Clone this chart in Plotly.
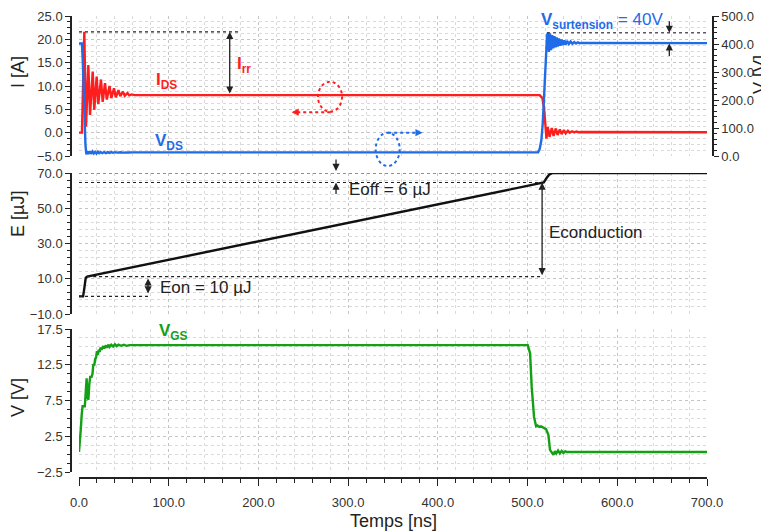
import plotly.graph_objects as go

# ---------------- data ----------------
t_ids = [0, 3.3, 4.5, 5.9, 7.8, 10.4, 12.3, 15.3, 17, 19.7, 21.5, 24.5, 26.4, 29, 31, 34, 36, 39, 41,
         44, 46, 49, 51, 54, 56, 59, 62, 513.5, 516.5, 518.4, 519.9, 521, 522.5, 524.5, 527, 529,
         531.5, 533.5, 536, 538, 540.5, 542.5, 545, 547, 549.5, 552, 554.5, 557, 560, 700]
i_ds = [0, 0, 10, 21.6, 1.3, 14.5, 3.8, 13.1, 4.9, 12.0, 6.1, 11.4, 6.6, 10.6, 7.1, 10.0, 7.4, 9.5, 7.6,
        9.1, 7.8, 8.8, 7.9, 8.5, 8.0, 8.2, 8.05, 8.05, 7.4, 5.2, 1.6, -1.3, 1.2, -0.9, 1.0, -0.7,
        0.9, -0.5, 0.7, -0.3, 0.55, -0.15, 0.4, 0.0, 0.3, 0.05, 0.25, 0.1, 0.15, 0.1]

t_vds = [0, 3.3, 4.3, 5.2, 6.2, 7.2, 8.2, 9.2, 10.5, 12, 13.5, 15, 16.5, 18, 19.5, 21, 22.5, 24, 26, 28,
         30, 32, 34, 36, 38, 40, 43, 46, 49, 52, 55, 60, 511.7, 513.5, 515.4, 517, 518.4, 520.2,
         521.7, 522.8, 523.8, 525, 526.2, 527.5, 528.7, 530, 531.2, 532.5, 533.7, 535, 536.5, 538,
         539.5, 541, 542.5, 544, 546, 548, 550, 552, 554, 556, 558, 560, 700]
v_ds = [402, 402, 330, 220, 110, 40, 6, 16, 7, 17, 8, 16, 9, 15, 9, 15, 10, 14, 10, 14,
        10.5, 14, 11, 14, 11.5, 13.5, 12, 13.5, 12, 13.5, 12.5, 13, 13, 25, 57, 120, 199, 324,
        431, 440, 372, 438, 378, 432, 384, 428, 388, 424, 391, 420, 394, 416, 396, 413, 398,
        411, 400, 409, 401, 407, 402, 406, 403, 404, 403]

t_e = [0, 4.5, 5.5, 6.5, 7.5, 9, 50, 100, 150, 200, 250, 300, 350, 400, 450, 500, 518, 521, 524, 528, 700]
e_sw = [0, 0, 3, 8, 10.5, 11.2, 15.5, 20.8, 26.1, 31.4, 36.5, 41.8, 47.0, 52.3, 57.6, 62.8, 64.6, 67,
        69, 70, 70]

t_vgs = [0, 1, 2, 3, 4, 6.5, 7.5, 8.5, 9.5, 10.5, 11.5, 12.5, 14, 15, 16, 17, 18, 19, 20, 21, 22, 23,
         24, 25, 27, 28, 30, 31, 33, 34, 36, 38, 40, 42, 44, 47, 50, 53, 56, 500.2, 502.8, 504.6,
         507.2, 509.5, 511, 513, 515, 517, 519, 520.6, 522, 523.2, 525, 527, 528.8, 530.5, 532,
         534, 536, 538, 540, 542, 543.6, 700]
v_gs = [0.3, 1.5, 3.5, 5.5, 6.7, 6.7, 9.5, 10.6, 8.0, 7.6, 9.8, 10.8, 10.8, 11.2, 12.6, 12.4, 13.3,
        13.5, 14.4, 13.9, 14.6, 14.3, 14.9, 14.6, 15.1, 14.8, 15.2, 14.9, 15.3, 15.0, 15.3, 15.05,
        15.35, 15.1, 15.3, 15.15, 15.3, 15.15, 15.25, 15.25, 14.1, 9.4, 5.2, 3.9, 4.0, 3.8, 3.9,
        3.7, 3.6, 3.5, 3.0, 2.7, 0.6, 0.2, -0.1, 0.4, 0.1, 0.5, 0.1, 0.45, 0.15, 0.4, 0.3, 0.3]

# key levels used by the annotations
i_rr_peak = 21.6
i_on = 8.05
v_peak = 440
v_off = 402
e_on = 11.2
e_before_off = 64.6
e_total = 70

# ---------------- layout helpers ----------------
W, H = 761, 531
def px(v):
    return v / W
def py(v):
    return 1 - v / H

RED = "#ff1e1e"
BLUE = "#1f6be8"
GREEN = "#14a014"
INK = "#222222"
TICKFONT = dict(family="Liberation Sans, Arial", size=13, color="#333333")
XDOM = [px(79), px(707)]

fig = go.Figure()
fig.add_trace(go.Scatter(x=t_ids, y=i_ds, xaxis="x", yaxis="y", mode="lines",
                         line=dict(color=RED, width=2.4)))
fig.add_trace(go.Scatter(x=t_vds, y=v_ds, xaxis="x", yaxis="y4", mode="lines",
                         line=dict(color=BLUE, width=2.4)))
fig.add_trace(go.Scatter(x=t_e, y=e_sw, xaxis="x2", yaxis="y2", mode="lines",
                         line=dict(color="#111111", width=2.4)))
fig.add_trace(go.Scatter(x=t_vgs, y=v_gs, xaxis="x3", yaxis="y3", mode="lines",
                         line=dict(color=GREEN, width=2.4)))

grid = dict(showgrid=True, gridcolor="#c4c4c4", griddash="dot", gridwidth=1, zeroline=False,
            automargin=False)

def xgrid_axis(anchor, labels):
    d = dict(domain=XDOM, range=[0, 700], dtick=100, **grid,
             minor=dict(dtick=20, showgrid=True, gridcolor="#dadada", griddash="dot", gridwidth=1,
                        ticks="outside" if labels else "", ticklen=4, tickcolor=INK))
    if labels:
        d.update(anchor="free", position=py(478), showline=True, linecolor=INK, linewidth=1.5,
                 ticks="outside", ticklen=7, tickcolor=INK, tickwidth=1.3, tickformat=".1f",
                 tickfont=TICKFONT, ticklabelstandoff=6)
    else:
        d.update(anchor=anchor, showticklabels=False, ticks="", showline=False)
    return d

def yaxis(dom, rng, dtick, tick0, mdtick):
    return dict(domain=dom, range=rng, dtick=dtick, tick0=tick0, anchor="free", position=px(71),
                showline=True, linecolor=INK, linewidth=1.5, ticks="outside", ticklen=5,
                tickcolor=INK, tickwidth=1.2, tickformat=".1f", tickfont=TICKFONT, **grid,
                minor=dict(dtick=mdtick, tick0=tick0, ticks="outside", ticklen=3, tickcolor=INK,
                           showgrid=True, gridcolor="#dadada", griddash="dot", gridwidth=1))

fig.update_layout(
    width=W, height=H, margin=dict(l=0, r=0, t=0, b=0, autoexpand=False),
    paper_bgcolor="white", plot_bgcolor="white", showlegend=False,
    xaxis=xgrid_axis("y", False),
    xaxis2=xgrid_axis("y2", False),
    xaxis3=xgrid_axis("y3", True),
    yaxis=yaxis([py(156), py(16)], [-5, 25], 5, 0, 1.25),
    yaxis2=yaxis([py(314), py(173)], [-10, 70], 20, 10, 4),
    yaxis3=yaxis([py(472), py(329)], [-2.5, 17.5], 5, 2.5, 1.25),
    yaxis4=dict(overlaying="y", side="right", anchor="free", position=px(713), range=[0, 500],
                dtick=100, showgrid=False, zeroline=False, showline=True, linecolor=INK,
                automargin=False, linewidth=1.5, ticks="outside", ticklen=5, tickcolor=INK,
                tickformat=".1f", tickfont=TICKFONT,
                minor=dict(dtick=20, ticks="outside", ticklen=3, tickcolor=INK)),
)

shapes = []
ann = []

def dline(x0, x1, y, xref, yref):
    shapes.append(dict(type="line", x0=x0, x1=x1, y0=y, y1=y, xref=xref, yref=yref,
                       line=dict(color=INK, width=1.1, dash="dot")))

def arr(x, y, ax, ay, xref, yref, both=False, data_tail=True, color=INK):
    d = dict(x=x, y=y, ax=ax, ay=ay, xref=xref, yref=yref, showarrow=True, text="",
             arrowhead=2, arrowsize=1.1, arrowwidth=1.3, arrowcolor=color)
    if data_tail:
        d.update(axref=xref, ayref=yref)
    if both:
        d.update(arrowside="end+start", startarrowhead=2, startarrowsize=1.1)
    ann.append(d)

def txt(text, x, y, xref, yref, color, size=17, xanchor="left", yanchor="middle", angle=0):
    ann.append(dict(text=text, x=x, y=y, xref=xref, yref=yref, showarrow=False,
                    xanchor=xanchor, yanchor=yanchor, textangle=angle,
                    font=dict(family="Liberation Sans, Arial", size=size, color=color)))

# --- top panel ---
dline(0, 180, i_rr_peak, "x", "y")
arr(168, i_rr_peak, 168, i_on, "x", "y", both=True)
txt("<b>I<sub>rr</sub></b>", 174, 14.6, "x", "y", RED)
txt("<b>I<sub>DS</sub></b>", 84, 11.0, "x", "y", RED)
txt("<b>V<sub>DS</sub></b>", 82, -1.9, "x", "y", BLUE)

shapes.append(dict(type="circle", xref="x", yref="y", x0=266.4, x1=293.2, y0=4.5, y1=10.9,
                   line=dict(color=RED, width=2, dash="dot")))
shapes.append(dict(type="line", xref="x", yref="y", x0=280, x1=242, y0=4.4, y1=4.4,
                   line=dict(color=RED, width=2, dash="dot")))
arr(237, 4.4, 7, 0, "x", "y", data_tail=False, color=RED)

shapes.append(dict(type="circle", xref="x", yref="paper", x0=330.7, x1=357.5, y0=py(166), y1=py(132.7),
                   line=dict(color=BLUE, width=2, dash="dot")))
shapes.append(dict(type="line", xref="x", yref="y", x0=344.6, x1=378, y0=0.0, y1=0.0,
                   line=dict(color=BLUE, width=2, dash="dot")))
arr(383, 0.0, -7, 0, "x", "y", data_tail=False, color=BLUE)

dline(521.7, 700, v_peak, "x", "y4")
arr(658, v_peak, 0, -13, "x", "y4", data_tail=False)
arr(658, v_off, 0, 14, "x", "y4", data_tail=False)
txt("<b>V<sub>surtension</sub></b> = 40V", 513, py(21), "x", "paper", BLUE)

# --- middle panel ---
dline(0, 528, e_total, "x2", "y2")
dline(0, 516, e_before_off, "x2", "y2")
dline(9, 516, e_on, "x2", "y2")
dline(0, 77, 0, "x2", "y2")
ann.append(dict(x=286.5, y=py(171), xref="x2", yref="paper", ax=0, ay=-13, showarrow=True, text="",
                arrowhead=2, arrowsize=1.1, arrowwidth=1.3, arrowcolor=INK))
arr(286.5, e_before_off, 0, 13, "x2", "y2", data_tail=False)
txt("Eoff = 6 µJ", 299, 60.4, "x2", "y2", INK)
arr(516.2, e_before_off, 516.2, e_on, "x2", "y2", both=True)
txt("Econduction", 521.5, 36.5, "x2", "y2", INK)
arr(77, 10.2, 77, 0.8, "x2", "y2", both=True)
txt("Eon = 10 µJ", 88, 5.3, "x2", "y2", INK)

# --- bottom panel ---
txt("<b>V<sub>GS</sub></b>", 87, py(332), "x3", "paper", GREEN)

# --- axis titles ---
TF = 18
txt("I [A]", px(18), py(72), "paper", "paper", INK, size=TF, xanchor="center", angle=-90)
txt("E [µJ]", px(18), py(214), "paper", "paper", INK, size=TF, xanchor="center", angle=-90)
txt("V [V]", px(18), py(398), "paper", "paper", INK, size=TF, xanchor="center", angle=-90)
txt("V [V]", px(760), py(75), "paper", "paper", INK, size=TF, xanchor="center", angle=-90)
txt("Temps [ns]", px(393), py(521), "paper", "paper", INK, size=TF, xanchor="center")

fig.update_layout(shapes=shapes, annotations=ann)
fig.write_html("out.html", config={"displayModeBar": False},
               post_script="document.body.style.margin='0px';")
